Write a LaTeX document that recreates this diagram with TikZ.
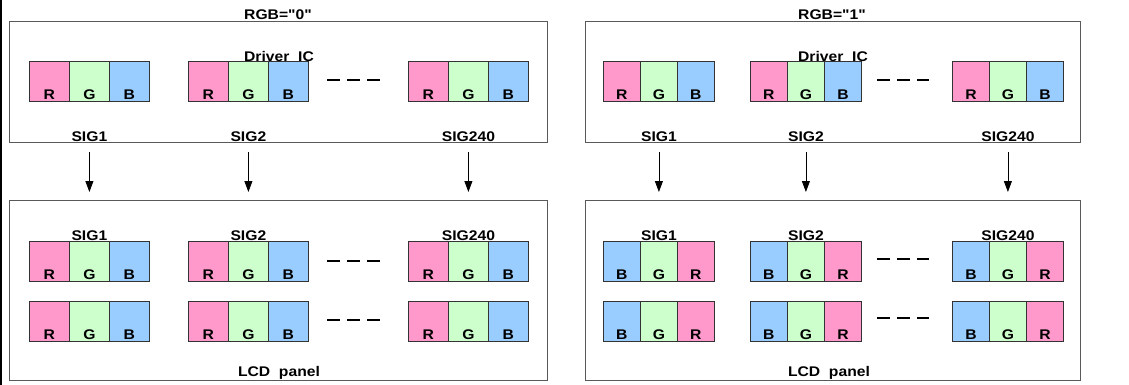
\documentclass[tikz,border=0pt]{standalone}
\usepackage{fontspec}
\setmainfont{Liberation Sans}[FakeStretch=1.12, Ligatures=TeXOff]
\usetikzlibrary{arrows.meta}

\definecolor{pixR}{HTML}{FF99CC}
\definecolor{pixG}{HTML}{CCFFCC}
\definecolor{pixB}{HTML}{99CCFF}

\tikzset{
  panel/.style={draw=black!65, line width=1.2pt, anchor=north west, inner sep=0pt},
  cell/.style={draw=black!80, line width=0.8pt, anchor=north west, inner sep=0pt,
    minimum height=40pt, text height=38pt, text depth=2pt},
  lbl/.style={anchor=base, inner sep=0pt},
  dots/.style={line width=2.6pt, dash pattern=on 13pt off 7pt},
  conn/.style={-{Triangle[length=11pt,width=8pt]}, line width=0.8pt, shorten >=8pt},
}

% one pixel: three sub cells, #5 = colour/letter list
\newcommand{\pixgroup}[5]{%
  \foreach \c/\t [count=\i] in {#5} {
    \node[cell, minimum width=#4pt, fill=\c] (#1-\i) at ({#2+(\i-1)*#4}, #3) {\t};
  }%
}

\begin{document}
\begin{tikzpicture}[x=1pt,y=-1pt,font=\bfseries\fontsize{14}{14}\selectfont]
    \useasboundingbox (0,0) rectangle (1129,385);
    \fill (0,0) rectangle (2,385);

    % RGB="0"
    \node[panel, minimum width=538pt, minimum height=121pt] (drvL) at (9,21) {};
    \node[panel, minimum width=538pt, minimum height=180pt] (lcdL) at (9,200) {};
    \foreach \g/\gx in {1/29,2/188,3/408} {
      \pixgroup{tL\g}{\gx}{61}{40}{pixR/R,pixG/G,pixB/B}
      \pixgroup{aL\g}{\gx}{241}{40}{pixR/R,pixG/G,pixB/B}
      \pixgroup{bL\g}{\gx}{301}{40}{pixR/R,pixG/G,pixB/B}
    }
    \node[lbl] (rgbL) at (278,19.5) {RGB="0"};
    \node[lbl] (icL) at (279,62) {Driver\ \ IC};
    \node[lbl] (panelL) at (279,376) {LCD\ \ panel};
    \foreach \y in {80,261,320} {
      \draw[dots] (327,\y) -- (382,\y);
    }
    \foreach \g/\name in {1/SIG1,2/SIG2,3/SIG240} {
      \node[lbl] (tsL\g) at (tL\g-2.north |- 0,141) {\name};
      \node[lbl] (bsL\g) at (aL\g-2.north |- 0,240) {\name};
      \draw[conn] ([yshift=-11pt]tsL\g.base) -- (tsL\g.base |- lcdL.north);
    }

    % RGB="1"
    \node[panel, minimum width=495pt, minimum height=121pt] (drvR) at (585,21) {};
    \node[panel, minimum width=495pt, minimum height=180pt] (lcdR) at (585,200) {};
    \foreach \g/\gx in {1/603,2/750,3/952} {
      \pixgroup{tR\g}{\gx}{61}{37}{pixR/R,pixG/G,pixB/B}
      \pixgroup{aR\g}{\gx}{241}{37}{pixB/B,pixG/G,pixR/R}
      \pixgroup{bR\g}{\gx}{301}{37}{pixB/B,pixG/G,pixR/R}
    }
    \node[lbl] (rgbR) at (832,19.5) {RGB="1"};
    \node[lbl] (icR) at (833,62) {Driver\ \ IC};
    \node[lbl] (panelR) at (829,376) {LCD\ \ panel};
    \foreach \y in {80,259,318} {
      \draw[dots] (877,\y) -- (929,\y);
    }
    \foreach \g/\name in {1/SIG1,2/SIG2,3/SIG240} {
      \node[lbl] (tsR\g) at (tR\g-2.north |- 0,141) {\name};
      \node[lbl] (bsR\g) at (aR\g-2.north |- 0,240) {\name};
      \draw[conn] ([yshift=-11pt]tsR\g.base) -- (tsR\g.base |- lcdR.north);
    }
\end{tikzpicture}
\end{document}
